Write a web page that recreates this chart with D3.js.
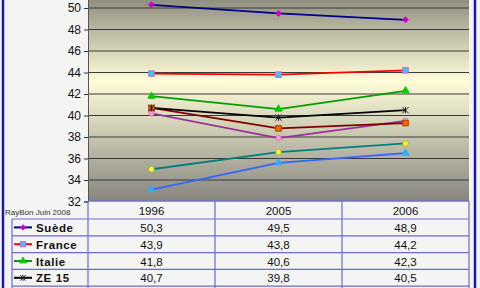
<!DOCTYPE html>
<html>
<head>
<meta charset="utf-8">
<script src="https://cdn.jsdelivr.net/npm/d3@7"></script>
<style>
  body { margin: 0; background: #f4f4f2; }
  svg { display: block; font-family: Arial, "Liberation Sans", sans-serif; }
</style>
</head>
<body>
<script>
const width = 480;
const height = 288;

// data
const years = ["1996", "2005", "2006"];
const names = ["Suède", "France", "Italie", "ZE 15", "série 5", "série 6", "série 7", "série 8"];
const suede = [50.3, 49.5, 48.9];
const france = [43.9, 43.8, 44.2];
const italie = [41.8, 40.6, 42.3];
const ze15 = [40.7, 39.8, 40.5];
const serie5 = [40.7, 38.8, 39.3];
const serie6 = [40.2, 37.9, 39.5];
const serie7 = [35.0, 36.6, 37.4];
const serie8 = [33.1, 35.6, 36.5];
const yTicks = [32, 34, 36, 38, 40, 42, 44, 46, 48, 50];
const visibleRows = 4;

const allValues = [suede, france, italie, ze15, serie5, serie6, serie7, serie8];
const lineColors = ["#000080", "#ff0000", "#00a000", "#000000", "#800000", "#993399", "#008080", "#3366ff"];
const markerFill = ["#cc00cc", "#33ccff", "#00cc00", "#000000", "#ff6600", "#ff99cc", "#ffff33", "#33aaff"];
const markerType = ["diamond", "square", "triangle", "star", "square", "circle", "circle", "triangle"];

const svg = d3.select('body')
  .append('svg')
  .attr('width', width)
  .attr('height', height);

const left = 88, right = 469, bottom = 201.5;

const x = d3.scaleBand().domain(years).range([left, right]);
const y = d3.scaleLinear().domain([32, 52]).range([bottom, -13.5]);

// outer blue frame
svg.append('line').attr('x1', 3).attr('x2', 3).attr('y1', 0).attr('y2', height)
  .attr('stroke', '#1a1aa8').attr('stroke-width', 2.5);
svg.append('line').attr('x1', 475).attr('x2', 475).attr('y1', 0).attr('y2', height)
  .attr('stroke', '#1a1aa8').attr('stroke-width', 2.5);

// plot background gradient
const grad = svg.append('defs').append('linearGradient')
  .attr('id', 'bg').attr('x1', 0).attr('x2', 0).attr('y1', 0).attr('y2', 1);
grad.append('stop').attr('offset', '0%').attr('stop-color', '#7e7e72');
grad.append('stop').attr('offset', '44%').attr('stop-color', '#fffcd8');
grad.append('stop').attr('offset', '100%').attr('stop-color', '#85857f');

svg.append('rect')
  .attr('x', left).attr('y', y(52))
  .attr('width', right - left).attr('height', bottom - y(52))
  .attr('fill', 'url(#bg)');

// gridlines
svg.append('g')
  .selectAll('line')
  .data(yTicks.filter(d => d > 32))
  .enter().append('line')
  .attr('x1', left).attr('x2', right)
  .attr('y1', d => y(d)).attr('y2', d => y(d))
  .attr('stroke', '#3a3a3a').attr('stroke-width', 1);

// y axis
const yAxis = d3.axisLeft(y).tickValues(yTicks).tickSize(4).tickPadding(3);
const ga = svg.append('g').attr('transform', `translate(${left},0)`).call(yAxis);
ga.select('.domain').attr('stroke', '#555');
ga.selectAll('.tick line').attr('stroke', '#333');
ga.selectAll('.tick text').attr('font-size', 12).attr('fill', '#111')
  .attr('font-family', 'Arial, "Liberation Sans", sans-serif');

// lines (draw bottom series first)
const line = d3.line()
  .x((d, i) => x(years[i]) + x.bandwidth() / 2)
  .y(d => y(d));

function marker(g, type, fill, stroke, s) {
  if (type === 'diamond') {
    const h = s * 0.55;
    g.append('path').attr('d', `M0,${-h}L${h},0L0,${h}L${-h},0Z`)
      .attr('fill', fill).attr('stroke', fill).attr('stroke-width', 0.8);
  } else if (type === 'square') {
    g.append('rect').attr('x', -s / 2).attr('y', -s / 2).attr('width', s).attr('height', s)
      .attr('fill', fill).attr('stroke', stroke === '#ff0000' ? '#cc66cc' : '#a04000').attr('stroke-width', 1);
  } else if (type === 'triangle') {
    g.append('path').attr('d', d3.symbol(d3.symbolTriangle, s * s * 0.75)())
      .attr('fill', fill).attr('stroke', fill);
  } else if (type === 'circle') {
    g.append('circle').attr('r', s / 2).attr('fill', fill).attr('stroke', fill === '#ff99cc' ? '#cc66aa' : '#aaaa00').attr('stroke-width', 0.7);
  } else if (type === 'star') {
    g.append('path').attr('d', d3.symbol(d3.symbolTimes, s * s * 0.9)())
      .attr('fill', 'none').attr('stroke', '#222').attr('stroke-width', 1);
    g.append('line').attr('x1', 0).attr('x2', 0).attr('y1', -s / 2 - 0.5).attr('y2', s / 2 + 0.5)
      .attr('stroke', '#222').attr('stroke-width', 1);
  }
}

const order = [7, 6, 5, 4, 3, 2, 1, 0];
const gl = svg.append('g');
order.forEach(k => {
  gl.append('path')
    .datum(allValues[k])
    .attr('d', line)
    .attr('fill', 'none')
    .attr('stroke', lineColors[k])
    .attr('stroke-width', 1.8);
});
order.forEach(k => {
  allValues[k].forEach((v, i) => {
    const m = gl.append('g')
      .attr('transform', `translate(${x(years[i]) + x.bandwidth() / 2},${y(v)})`);
    marker(m, markerType[k], markerFill[k], lineColors[k], 5.5);
  });
});

// data table
const tableTop = 201, headerBottom = 219, rowH = 16.8;
const tcol = '#6a6ad8';
const tg = svg.append('g');

svg.append('line').attr('x1', left).attr('x2', right).attr('y1', tableTop).attr('y2', tableTop)
  .attr('stroke', tcol).attr('stroke-width', 1.2);

const rowLines = d3.range(visibleRows + 1).map(i => headerBottom + i * rowH);
tg.selectAll('line.h')
  .data(rowLines)
  .enter().append('line')
  .attr('class', 'h')
  .attr('x1', 12).attr('x2', right)
  .attr('y1', d => d).attr('y2', d => d)
  .attr('stroke', tcol).attr('stroke-width', 1.2);

const colEdges = [left].concat(years.map(d => x(d) + x.bandwidth()));
tg.selectAll('line.v')
  .data(colEdges)
  .enter().append('line')
  .attr('class', 'v')
  .attr('x1', d => d).attr('x2', d => d)
  .attr('y1', tableTop).attr('y2', height)
  .attr('stroke', tcol).attr('stroke-width', 1.2);
tg.append('line').attr('x1', 12).attr('x2', 12).attr('y1', headerBottom).attr('y2', height)
  .attr('stroke', tcol).attr('stroke-width', 1.2);

// header
tg.selectAll('text.yr')
  .data(years)
  .enter().append('text')
  .attr('class', 'yr')
  .attr('x', d => x(d) + x.bandwidth() / 2)
  .attr('y', 215)
  .attr('text-anchor', 'middle')
  .attr('font-size', 11.5)
  .attr('fill', '#111')
  .text(d => d);

tg.append('text')
  .attr('x', 5).attr('y', 215)
  .attr('font-size', 8)
  .attr('fill', '#333')
  .text('RayBon Juin 2008');

// rows
d3.range(visibleRows).forEach(r => {
  const cy = headerBottom + r * rowH + rowH / 2;
  tg.append('line').attr('x1', 14).attr('x2', 32).attr('y1', cy).attr('y2', cy)
    .attr('stroke', lineColors[r]).attr('stroke-width', 2);
  const m = tg.append('g').attr('transform', `translate(23,${cy})`);
  marker(m, markerType[r], markerFill[r], lineColors[r], 5);
  tg.append('text')
    .attr('x', 36).attr('y', cy + 4.5)
    .attr('font-size', 11.5).attr('font-weight', 'bold')
    .attr('letter-spacing', 0.6)
    .attr('fill', '#111')
    .text(names[r]);
  allValues[r].forEach((v, i) => {
    tg.append('text')
      .attr('x', x(years[i]) + x.bandwidth() / 2)
      .attr('y', cy + 4.5)
      .attr('text-anchor', 'middle')
      .attr('font-size', 11.5)
      .attr('fill', '#111')
      .text(d3.format('.1f')(v).replace('.', ','));
  });
});
</script>
</body>
</html>
